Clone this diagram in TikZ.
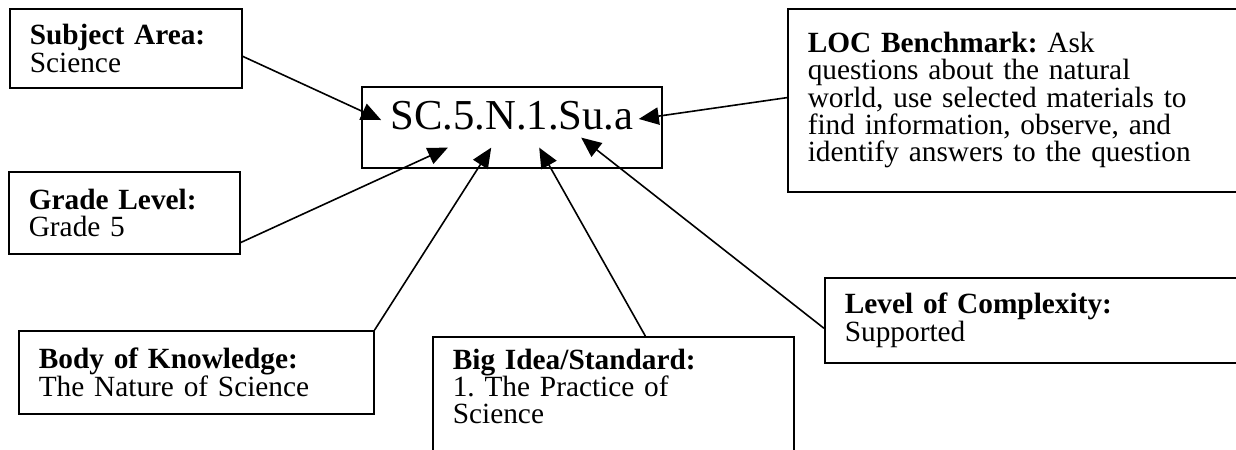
\documentclass[tikz,border=0pt]{standalone}
\usepackage{fontspec}
\setmainfont{Liberation Serif}
\usetikzlibrary{arrows.meta,positioning}
\frenchspacing

\begin{document}
\begin{tikzpicture}[x=0.75pt, y=-0.75pt]
        \tikzset{infobox/.style={draw, line width=1.2pt, anchor=north west, align=left, inner xsep=15pt, inner ysep=9pt, font=\fontsize{22}{20.5}\selectfont}}
        \tikzset{codebox/.style={draw, line width=1.2pt, inner sep=0pt, minimum width=225pt, text height=32pt, text depth=28.5pt, font=\fontsize{32}{32}\selectfont}}
        \tikzset{pointer/.style={-{Triangle[length=15pt,width=13pt]}, line width=1.2pt}}

        \useasboundingbox (0,0) rectangle (1236,450);

        \node [codebox] (code) at (512,127.5) {SC.5.N.1.Su.a};

        \node [infobox, text width=144pt, minimum height=59.25pt] (subject) at (9,8) {\textbf{Subject Area:}\\Science};
        \node [infobox, text width=143.25pt, minimum height=61.5pt] (grade) at (8,171) {\textbf{Grade Level:}\\Grade 5};
        \node [infobox, text width=236.25pt, minimum height=62.25pt] (body) at (18,330) {\textbf{Body of Knowledge:}\\The Nature of Science};
        \node [infobox, text width=240.75pt] (idea) at (432,336) {\textbf{Big Idea/Standard:}\\1. The Practice of\\Science\rule[-70pt]{0pt}{70pt}};
        \node [infobox, text width=289.5pt, minimum height=63.75pt] (level) at (824,277) {\textbf{Level of Complexity:}\\Supported};
        \node [infobox, text width=315pt, minimum height=137.25pt] (loc) at (787,8) {\textbf{LOC Benchmark:} Ask\\questions about the natural\\world, use selected materials to\\find information, observe, and\\identify answers to the question};

        % arrow tips inside the code box
        \coordinate (tipS) at ([xshift=15pt,yshift=5.6pt]code.west);
        \coordinate (tipL) at ([xshift=-18pt,yshift=6.4pt]code.east);
        \coordinate (tipG) at ([xshift=65pt,yshift=15.75pt]code.south west);
        \coordinate (tipB) at ([xshift=97.5pt,yshift=15.75pt]code.south west);
        \coordinate (tipI) at ([xshift=133.5pt,yshift=15.75pt]code.south west);
        \coordinate (tipC) at ([xshift=165pt,yshift=23.25pt]code.south west);

        \draw [pointer] ([yshift=-6pt]subject.east) -- (tipS);
        \draw [pointer] ([yshift=9pt]grade.south east) -- (tipG);
        \draw [pointer] (body.north east) -- (tipB);
        \draw [pointer] ([xshift=24pt]idea.north) -- (tipI);
        \draw [pointer] ([yshift=-6pt]level.west) -- (tipC);
        \draw [pointer] ([yshift=2pt]loc.west) -- (tipL);
    \end{tikzpicture}
\end{document}
